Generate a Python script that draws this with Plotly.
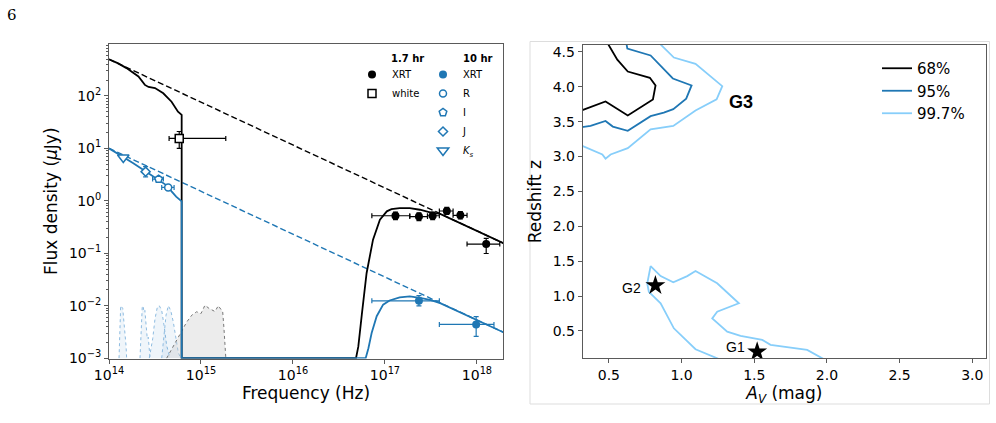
import plotly.graph_objects as go

BLUE = "#1f77b4"
LIGHT = "#87cefa"
FONT = "DejaVu Sans"

# ---------------- Left panel data (SED) ----------------
# power-law (dashed) lines, endpoints
pl_nu = [1e14, 10**18.3]
pl_17hr = [500.0, 0.152]
pl_10hr = [10.0, 0.00304]

# absorbed model curves (log10 nu, log10 F)
m17_lognu = [14.0, 14.1, 14.19, 14.32, 14.39, 14.43, 14.50, 14.59, 14.68, 14.75, 14.79, 14.79,
             16.685, 16.71, 16.75, 16.80, 16.87, 16.945, 17.02, 17.07, 17.16, 17.27, 17.38,
             17.49, 17.6, 17.8, 18.0, 18.3]
m17_logF = [2.70, 2.62, 2.53, 2.37, 2.21, 2.17, 2.15, 2.05, 1.89, 1.70, 1.64, -3.0,
            -3.0, -2.78, -2.14, -1.38, -0.74, -0.36, -0.20, -0.16, -0.14, -0.14, -0.17,
            -0.22, -0.25, -0.41, -0.57, -0.817]
m10_lognu = [14.0, 14.155, 14.26, 14.40, 14.52, 14.63, 14.68, 14.73, 14.79, 14.79,
             16.79, 16.82, 16.855, 16.91, 16.98, 17.05, 17.16, 17.27, 17.38, 17.49,
             17.6, 17.8, 18.0, 18.3]
m10_logF = [1.0, 0.84, 0.72, 0.56, 0.42, 0.29, 0.18, 0.08, -0.01, -3.0,
            -3.0, -2.81, -2.52, -2.20, -1.98, -1.90, -1.84, -1.82, -1.85, -1.89,
            -1.95, -2.11, -2.27, -2.517]

# filter transmission curves (log10 nu, log10 F)
filt_Ks = ([14.109, 14.127, 14.149, 14.163, 14.174, 14.185, 14.192],
           [-3, -2.0, -2.05, -2.31, -2.5, -2.76, -3])
filt_J = ([14.337, 14.355, 14.362, 14.373, 14.380, 14.390, 14.402, 14.416, 14.427, 14.438, 14.446],
          [-3, -2.44, -2.0, -2.03, -2.12, -2.09, -2.44, -2.63, -2.60, -2.82, -3])
filt_I = ([14.438, 14.475, 14.5, 14.525, 14.547, 14.573, 14.598, 14.627, 14.663],
          [-3, -2.63, -2.25, -2.03, -2.0, -2.09, -2.37, -2.76, -3])
filt_R = ([14.573, 14.598, 14.62, 14.645, 14.671, 14.699, 14.728, 14.753, 14.779],
          [-3, -2.57, -2.18, -2.0, -2.09, -2.31, -2.63, -2.89, -3])
filt_white = ([14.627, 14.845, 14.90, 14.953, 15.0, 15.043, 15.087, 15.152, 15.188, 15.236, 15.25, 15.27],
              [-3, -2.31, -2.18, -2.115, -2.15, -1.99, -2.05, -2.11, -2.0, -2.115, -2.44, -3])

# 1.7 hr data
xrt17_nu = [1.3e17, 2.34e17, 3.3e17, 4.7e17, 6.6e17, 1.26e18]
xrt17_F = [0.52, 0.50, 0.52, 0.64, 0.53, 0.15]
xrt17_nu_lo = [7.2e16, 1.86e17, 2.9e17, 3.9e17, 5.5e17, 7.8e17]
xrt17_nu_hi = [1.86e17, 2.9e17, 3.9e17, 5.5e17, 7.8e17, 1.77e18]
xrt17_F_up = [0.09, 0.09, 0.09, 0.11, 0.09, 0.043]
xrt17_F_dn = [0.08, 0.08, 0.08, 0.09, 0.08, 0.051]

white_nu = [5.8e14]
white_F = [15.5]
white_nu_lo = [4.5e14]
white_nu_hi = [1.86e15]
white_F_up = [5.5]
white_F_dn = [5.5]

# 10 hr data
xrt10_nu = [2.34e17, 9.8e17]
xrt10_F = [0.0124, 0.0044]
xrt10_nu_lo = [7.2e16, 3.9e17]
xrt10_nu_hi = [3.9e17, 1.53e18]
xrt10_F_up = [0.0032, 0.0018]
xrt10_F_dn = [0.0025, 0.0018]

R_nu, R_F, R_nu_lo, R_nu_hi, R_Ferr = [4.4e14], [1.8], [3.74e14], [5.1e14], [0.15]
I_nu, I_F, I_nu_lo, I_nu_hi, I_Ferr = [3.46e14], [2.6], [2.98e14], [3.9e14], [0.2]
J_nu, J_F, J_Fup, J_Fdn = [2.5e14], [3.6], [0.9], [0.75]
Ks_nu, Ks_F = [1.43e14], [6.7]

# ---------------- Right panel data (contours) ----------------
c68_x = [0.49, 0.53, 0.558, 0.63, 0.782, 0.821, 0.803, 0.63, 0.477, 0.31]
c68_y = [4.63, 4.5, 4.39, 4.22, 4.13, 4.02, 3.82, 3.59, 3.79, 3.66]
c95_x = [0.62, 0.627, 0.787, 0.94, 1.069, 1.032, 0.943, 0.878, 0.787, 0.63, 0.527, 0.477, 0.374, 0.31]
c95_y = [4.63, 4.55, 4.45, 4.12, 4.02, 3.83, 3.68, 3.63, 3.58, 3.37, 3.43, 3.51, 3.44, 3.42]
c997a_x = [0.845, 0.947, 1.096, 1.177, 1.261, 1.28, 1.241, 1.096, 0.943, 0.787, 0.63, 0.512, 0.477, 0.455, 0.31]
c997a_y = [4.63, 4.42, 4.33, 4.19, 4.05, 4.01, 3.82, 3.66, 3.44, 3.39, 3.12, 3.03, 2.97, 3.03, 3.16]
c997b_x = [1.276, 1.245, 1.096, 0.947, 0.856, 0.775, 0.764, 0.787, 0.856, 0.943, 1.039, 1.096,
           1.245, 1.394, 1.245, 1.211, 1.314, 1.406, 1.555, 1.612, 1.864, 1.968, 1.99]
c997b_y = [0.08, 0.107, 0.237, 0.537, 0.896, 1.06, 1.18, 1.43, 1.286, 1.196, 1.286, 1.358,
           1.182, 0.896, 0.775, 0.68, 0.49, 0.43, 0.37, 0.30, 0.227, 0.107, 0.08]

stars_x = [0.82, 1.52]
stars_y = [1.15, 0.20]

fig = go.Figure()

# filters
for (lx, ly) in [filt_Ks, filt_J, filt_I, filt_R]:
    fig.add_trace(go.Scatter(x=[10**v for v in lx], y=[10**v for v in ly], mode="lines",
                             fill="toself", fillcolor="rgba(31,119,180,0.07)",
                             line=dict(color="#8dbbe0", width=1, dash="dot"),
                             showlegend=False, hoverinfo="skip", xaxis="x", yaxis="y"))
fig.add_trace(go.Scatter(x=[10**v for v in filt_white[0]], y=[10**v for v in filt_white[1]],
                         mode="lines", fill="toself", fillcolor="rgba(200,200,200,0.35)",
                         line=dict(color="#777777", width=1, dash="dot"),
                         showlegend=False, hoverinfo="skip"))

# dashed power laws
fig.add_trace(go.Scatter(x=pl_nu, y=pl_17hr, mode="lines",
                         line=dict(color="black", width=1.4, dash="6px,3px"), showlegend=False))
fig.add_trace(go.Scatter(x=pl_nu, y=pl_10hr, mode="lines",
                         line=dict(color=BLUE, width=1.4, dash="6px,3px"), showlegend=False))

# models
fig.add_trace(go.Scatter(x=[10**v for v in m17_lognu], y=[10**v for v in m17_logF], mode="lines",
                         line=dict(color="black", width=1.8), showlegend=False))
fig.add_trace(go.Scatter(x=[10**v for v in m10_lognu], y=[10**v for v in m10_logF], mode="lines",
                         line=dict(color=BLUE, width=1.8), showlegend=False))

ebk = dict(color="black", thickness=1.2, width=2.5)
ebb = dict(color=BLUE, thickness=1.2, width=2.5)

def xerr(c, lo, hi, st):
    return dict(type="data", symmetric=False,
                array=[h - v for v, h in zip(c, hi)],
                arrayminus=[v - l for v, l in zip(c, lo)], **st)

# 1.7 hr points
fig.add_trace(go.Scatter(x=xrt17_nu, y=xrt17_F, mode="markers", name="XRT", legend="legend",
                         marker=dict(color="black", size=8, symbol="circle"),
                         error_x=xerr(xrt17_nu, xrt17_nu_lo, xrt17_nu_hi, ebk),
                         error_y=dict(type="data", symmetric=False, array=xrt17_F_up,
                                      arrayminus=xrt17_F_dn, **ebk)))
fig.add_trace(go.Scatter(x=white_nu, y=white_F, mode="markers", name="white", legend="legend",
                         marker=dict(color="white", size=8, symbol="square",
                                     line=dict(color="black", width=1.5)),
                         error_x=xerr(white_nu, white_nu_lo, white_nu_hi, ebk),
                         error_y=dict(type="data", symmetric=False, array=white_F_up,
                                      arrayminus=white_F_dn, **ebk)))

# 10 hr points
fig.add_trace(go.Scatter(x=xrt10_nu, y=xrt10_F, mode="markers", name="XRT", legend="legend2",
                         marker=dict(color=BLUE, size=8, symbol="circle"),
                         error_x=xerr(xrt10_nu, xrt10_nu_lo, xrt10_nu_hi, ebb),
                         error_y=dict(type="data", symmetric=False, array=xrt10_F_up,
                                      arrayminus=xrt10_F_dn, **ebb)))
fig.add_trace(go.Scatter(x=R_nu, y=R_F, mode="markers", name="R", legend="legend2",
                         marker=dict(color="white", size=7, symbol="circle",
                                     line=dict(color=BLUE, width=1.5)),
                         error_x=xerr(R_nu, R_nu_lo, R_nu_hi, ebb),
                         error_y=dict(type="data", array=R_Ferr, **ebb)))
fig.add_trace(go.Scatter(x=I_nu, y=I_F, mode="markers", name="I", legend="legend2",
                         marker=dict(color="white", size=8, symbol="pentagon",
                                     line=dict(color=BLUE, width=1.5)),
                         error_x=xerr(I_nu, I_nu_lo, I_nu_hi, ebb),
                         error_y=dict(type="data", array=I_Ferr, **ebb)))
fig.add_trace(go.Scatter(x=J_nu, y=J_F, mode="markers", name="J", legend="legend2",
                         marker=dict(color="white", size=7, symbol="diamond",
                                     line=dict(color=BLUE, width=1.5)),
                         error_y=dict(type="data", symmetric=False, array=J_Fup,
                                      arrayminus=J_Fdn, **ebb)))
fig.add_trace(go.Scatter(x=Ks_nu, y=Ks_F, mode="markers", name="<i>K<sub>s</sub></i>",
                         legend="legend2",
                         marker=dict(color="white", size=10, symbol="triangle-down",
                                     line=dict(color=BLUE, width=1.5))))

# right panel contours
fig.add_trace(go.Scatter(x=c68_x, y=c68_y, mode="lines", name="68%", legend="legend3",
                         line=dict(color="black", width=1.8), xaxis="x2", yaxis="y2"))
fig.add_trace(go.Scatter(x=c95_x, y=c95_y, mode="lines", name="95%", legend="legend3",
                         line=dict(color=BLUE, width=1.8), xaxis="x2", yaxis="y2"))
fig.add_trace(go.Scatter(x=c997a_x, y=c997a_y, mode="lines", name="99.7%", legend="legend3",
                         line=dict(color=LIGHT, width=1.8), xaxis="x2", yaxis="y2"))
fig.add_trace(go.Scatter(x=c997b_x, y=c997b_y, mode="lines", showlegend=False,
                         line=dict(color=LIGHT, width=1.8), xaxis="x2", yaxis="y2"))
fig.add_trace(go.Scatter(x=stars_x, y=stars_y, mode="markers", showlegend=False,
                         marker=dict(color="black", size=15, symbol="star"),
                         xaxis="x2", yaxis="y2"))

W, H = 996, 423
axcol = "#5a5a5a"
tickfont = dict(family=FONT, size=14, color="black")
titlefont = dict(family=FONT, size=17, color="black")

minor_vals = [k * 10.0**e for e in range(-3, 3) for k in range(2, 10)]

fig.update_layout(
    width=W, height=H, margin=dict(l=0, r=0, t=0, b=0),
    paper_bgcolor="white", plot_bgcolor="white",
    font=dict(family=FONT, color="black"),
    xaxis=dict(domain=[109 / W, 503 / W], type="log", range=[14, 18.283],
               tickvals=[1e14, 1e15, 1e16, 1e17, 1e18],
               ticktext=["10<sup>14</sup>", "10<sup>15</sup>", "10<sup>16</sup>",
                         "10<sup>17</sup>", "10<sup>18</sup>"],
               ticks="outside", ticklen=4, tickcolor=axcol, tickfont=tickfont,
               showline=True, linecolor=axcol, linewidth=1, mirror=True, showgrid=False,
               zeroline=False, automargin=False,
               title=dict(text="Frequency (Hz)", font=titlefont, standoff=4),
               anchor="y"),
    yaxis=dict(domain=[1 - 358.5 / H, 1 - 44 / H], type="log", range=[-3.006, 2.99],
               tickvals=[1e-3, 1e-2, 1e-1, 1, 10, 100],
               ticktext=["10<sup>−3</sup>", "10<sup>−2</sup>", "10<sup>−1</sup>",
                         "10<sup>0</sup>", "10<sup>1</sup>", "10<sup>2</sup>"],
               ticks="outside", ticklen=4, tickcolor=axcol, tickfont=tickfont,
               minor=dict(tickmode="array", tickvals=minor_vals, ticks="outside",
                          ticklen=2, tickcolor=axcol, showgrid=False),
               showline=True, linecolor=axcol, linewidth=1, mirror=True, showgrid=False,
               zeroline=False, automargin=False,
               title=dict(text="Flux density (<i>μ</i>Jy)", font=titlefont, standoff=6),
               anchor="x"),
    xaxis2=dict(domain=[582.7 / W, 986 / W], range=[0.32, 3.094],
                tickvals=[0.5, 1.0, 1.5, 2.0, 2.5, 3.0], tickformat=".1f",
                ticks="outside", ticklen=4, tickcolor=axcol, tickfont=tickfont,
                showline=True, linecolor=axcol, linewidth=1, mirror=True, showgrid=False,
                zeroline=False, automargin=False,
                title=dict(text="<i>A</i><sub><i>V</i></sub> (mag)", font=titlefont, standoff=2),
                anchor="y2"),
    yaxis2=dict(domain=[1 - 358.3 / H, 1 - 45 / H], range=[0.107, 4.6],
                tickvals=[0.5, 1.0, 1.5, 2.0, 2.5, 3.0, 3.5, 4.0, 4.5], tickformat=".1f",
                ticks="outside", ticklen=4, tickcolor=axcol, tickfont=tickfont,
                showline=True, linecolor=axcol, linewidth=1, mirror=True, showgrid=False,
                zeroline=False, automargin=False,
                title=dict(text="Redshift z", font=titlefont, standoff=6),
                anchor="x2"),
    legend=dict(x=352 / W, y=1 - 60 / H, xanchor="left", yanchor="top",
                font=dict(size=10), bgcolor="rgba(0,0,0,0)", borderwidth=0),
    legend2=dict(x=423 / W, y=1 - 60 / H, xanchor="left", yanchor="top",
                 font=dict(size=10), bgcolor="rgba(0,0,0,0)", borderwidth=0),
    legend3=dict(x=877 / W, y=1 - 52 / H, xanchor="left", yanchor="top",
                 font=dict(size=15), bgcolor="rgba(0,0,0,0)", borderwidth=0),
    shapes=[dict(type="rect", xref="paper", yref="paper",
                 x0=530 / W, x1=989.5 / W, y0=1 - 404 / H, y1=1 - 41.5 / H,
                 line=dict(color="#dddddd", width=1), layer="below")],
    annotations=[
        dict(text="6", x=12 / W, y=1 - 15 / H, xref="paper", yref="paper",
             xanchor="center", yanchor="middle",
             showarrow=False, font=dict(family="DejaVu Serif", size=15)),
        dict(text="<b>1.7 hr</b>", x=389 / W, y=1 - 59 / H, xref="paper", yref="paper",
             xanchor="left", yanchor="middle", showarrow=False, font=dict(size=10)),
        dict(text="<b>10 hr</b>", x=461 / W, y=1 - 59 / H, xref="paper", yref="paper",
             xanchor="left", yanchor="middle", showarrow=False, font=dict(size=10)),
        dict(text="<b>G3</b>", x=1.31, y=3.78, xref="x2", yref="y2", xanchor="left",
             yanchor="middle", showarrow=False, font=dict(family="Liberation Sans", size=18)),
        dict(text="G2", x=0.735, y=1.12, xref="x2", yref="y2", xanchor="right",
             yanchor="middle", showarrow=False, font=dict(family="Liberation Sans", size=14)),
        dict(text="G1", x=1.45, y=0.275, xref="x2", yref="y2", xanchor="right",
             yanchor="middle", showarrow=False, font=dict(family="Liberation Sans", size=14)),
    ],
)

fig.write_html("out.html")
